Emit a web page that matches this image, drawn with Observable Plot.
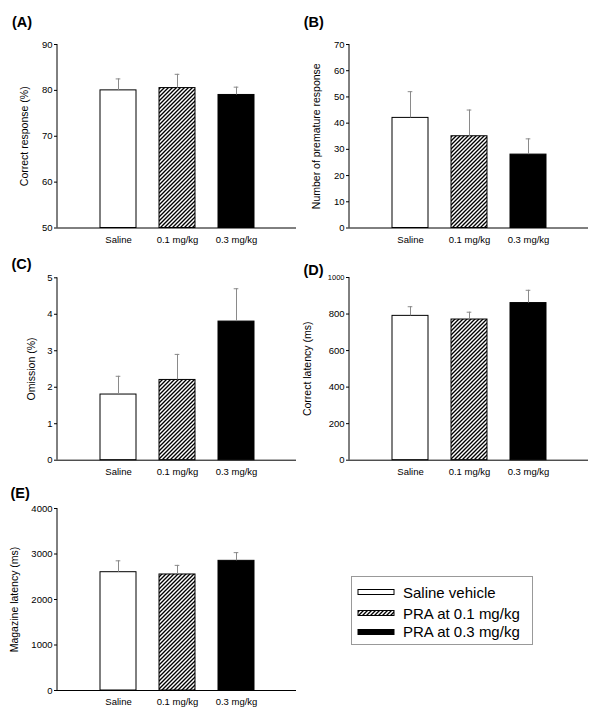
<!DOCTYPE html>
<html><head><meta charset="utf-8">
<script src="https://cdn.jsdelivr.net/npm/d3@7"></script>
<script src="https://cdn.jsdelivr.net/npm/@observablehq/plot@0.6"></script>
<style>
body{margin:0;background:#fff;font-family:Arial,"Liberation Sans",sans-serif;}
#root{position:relative;width:600px;height:719px;overflow:hidden;background:#fff;}
.panel{position:absolute;}
#legend{position:absolute;left:351px;top:576px;width:182px;height:69px;border:1px solid #999;box-sizing:border-box;background:#fff;}
.row{position:absolute;left:0;height:20px;display:flex;align-items:center;font-size:15px;color:#000;white-space:nowrap;}
.row svg{margin-left:5px;margin-right:8px;}
</style></head>
<body>
<svg width="0" height="0" style="position:absolute">
<defs><pattern id="hatch" patternUnits="userSpaceOnUse" width="4" height="4">
<rect width="4" height="4" fill="white"/>
<path d="M-1,1 l2,-2 M0,4 l4,-4 M3,5 l2,-2" stroke="black" stroke-width="1.35"/>
</pattern></defs></svg>
<div id="root"></div>
<script>
const categories = ["Saline", "0.1 mg/kg", "0.3 mg/kg"];
const legendLabels = ["Saline vehicle", "PRA at 0.1 mg/kg", "PRA at 0.3 mg/kg"];

const correctResponse = [80, 80.5, 79];
const correctResponseSE = [2.5, 3, 1.7];
const correctResponseTicks = [50, 60, 70, 80, 90];

const prematureResponse = [42, 35, 28];
const prematureResponseSE = [10, 10, 6];
const prematureResponseTicks = [0, 10, 20, 30, 40, 50, 60, 70];

const omission = [1.8, 2.2, 3.8];
const omissionSE = [0.5, 0.7, 0.9];
const omissionTicks = [0, 1, 2, 3, 4, 5];

const correctLatency = [790, 770, 860];
const correctLatencySE = [50, 40, 70];
const correctLatencyTicks = [0, 200, 400, 600, 800, 1000];

const magazineLatency = [2600, 2550, 2850];
const magazineLatencySE = [250, 200, 180];
const magazineLatencyTicks = [0, 1000, 2000, 3000, 4000];

const FONT = 'Arial, "Liberation Sans", sans-serif';
const ERR = "#8a8a8a";
const fills = ["white", "url(#hatch)", "black"];
const idx = [0, 1, 2];
const PI = 0.39, PO = 0.7;

function makePanel(p) {
  const [x0, x1, y0, y1] = p.frame;
  const bw = d3.scaleBand().domain(categories).range([x0, x1]).paddingInner(PI).paddingOuter(PO).bandwidth();
  const capInset = (bw - 5) / 2;
  const base = p.ticks[0];
  const leftLine = (index, scales, values, dims) => {
    const l = d3.create("svg:line")
      .attr("x1", dims.marginLeft).attr("x2", dims.marginLeft)
      .attr("y1", dims.marginTop).attr("y2", dims.height - dims.marginBottom)
      .attr("stroke", "black").attr("stroke-width", 1);
    return l.node();
  };
  const chart = Plot.plot({
    width: p.w, height: p.h,
    marginLeft: x0 - p.left, marginRight: p.left + p.w - x1,
    marginTop: y0 - p.top, marginBottom: p.top + p.h - y1,
    style: {background: "transparent", fontFamily: FONT, fontSize: "9.5px", color: "black", overflow: "visible"},
    x: {domain: categories, paddingInner: PI, paddingOuter: PO, tickSize: 0, tickPadding: 8, label: null},
    y: {domain: [p.ticks[0], p.ticks[p.ticks.length - 1]], ticks: p.ticks, tickFormat: d => String(d), tickSize: 3, tickPadding: 2, label: null},
    marks: [
      ...idx.map(i => Plot.barY([i], {x: d => categories[d], y1: d => base, y2: d => p.values[d], fill: fills[i], stroke: "black", strokeWidth: 1})),
      Plot.ruleX(idx, {x: d => categories[d], y1: d => p.values[d], y2: d => p.values[d] + p.se[d], stroke: ERR, strokeWidth: 1}),
      Plot.tickY(idx, {x: d => categories[d], y: d => p.values[d] + p.se[d], stroke: ERR, strokeWidth: 1, insetLeft: capInset, insetRight: capInset}),
      Plot.ruleY([base], {stroke: "black", strokeWidth: 1}),
      leftLine,
      Plot.text([p.title], {text: d => d, frameAnchor: "left", rotate: -90, dx: p.titleX - x0, textAnchor: "middle", lineAnchor: "middle", fontSize: 10.5, fill: "black"}),
      Plot.text([p.letter], {text: d => d, frameAnchor: "top-left", dx: p.letterX - x0, dy: p.letterY - y0, textAnchor: "start", lineAnchor: "bottom", fontSize: 14.5, fontWeight: "bold", fill: "black"})
    ]
  });
  const div = document.createElement("div");
  div.className = "panel";
  div.style.left = p.left + "px";
  div.style.top = p.top + "px";
  div.appendChild(chart);
  document.getElementById("root").appendChild(div);
  return chart;
}

makePanel({left: 0, top: 0, w: 300, h: 250, frame: [57, 296, 44, 227.5],
  values: correctResponse, se: correctResponseSE, ticks: correctResponseTicks,
  title: "Correct response (%)", titleX: 24, letter: "(A)", letterX: 11.5, letterY: 26.3});
makePanel({left: 300, top: 0, w: 300, h: 250, frame: [349, 588, 44, 227.5],
  values: prematureResponse, se: prematureResponseSE, ticks: prematureResponseTicks,
  title: "Number of premature response", titleX: 316.3, letter: "(B)", letterX: 303.2, letterY: 26});
makePanel({left: 0, top: 250, w: 300, h: 230, frame: [57, 296, 277.3, 459.7],
  values: omission, se: omissionSE, ticks: omissionTicks,
  title: "Omission (%)", titleX: 30.7, letter: "(C)", letterX: 11, letterY: 268.3});
const chartD = makePanel({left: 300, top: 250, w: 300, h: 230, frame: [349, 588, 277, 459.7],
  values: correctLatency, se: correctLatencySE, ticks: correctLatencyTicks,
  title: "Correct latency (ms)", titleX: 306.7, letter: "(D)", letterX: 303, letterY: 274.8});
makePanel({left: 0, top: 480, w: 300, h: 239, frame: [57, 296, 508, 690],
  values: magazineLatency, se: magazineLatencySE, ticks: magazineLatencyTicks,
  title: "Magazine latency (ms)", titleX: 14, letter: "(E)", letterX: 10, letterY: 497.3});

d3.select(chartD).selectAll("text").filter(function() { return this.textContent === "1000"; }).style("font-size", "7.5px");

// legend
const legend = document.createElement("div");
legend.id = "legend";
const rowCenters = [15, 36, 54.5];
legendLabels.forEach((lab, i) => {
  const row = document.createElement("div");
  row.className = "row";
  row.style.top = (rowCenters[i] - 10) + "px";
  const sw = d3.create("svg").attr("width", 38).attr("height", 8);
  sw.append("rect").attr("x", 1).attr("y", 1.5).attr("width", 36).attr("height", 5)
    .attr("fill", fills[i]).attr("stroke", "black").attr("stroke-width", 1);
  row.appendChild(sw.node());
  const t = document.createElement("span");
  t.textContent = lab;
  row.appendChild(t);
  legend.appendChild(row);
});
document.getElementById("root").appendChild(legend);
</script>
</body></html>
